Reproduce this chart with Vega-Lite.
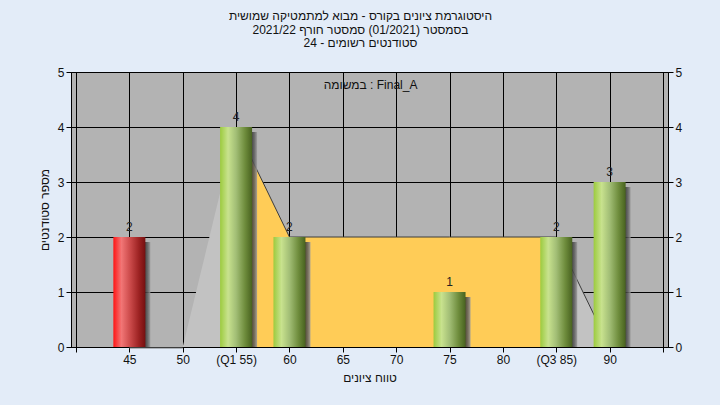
{
  "$schema": "https://vega.github.io/schema/vega-lite/v6.json",
  "width": 597,
  "height": 275,
  "autosize": {"type": "none"},
  "padding": {"left": 71, "top": 72, "right": 52, "bottom": 58},
  "background": "#E3ECF8",
  "title": {
    "text": ["היסטוגרמת ציונים בקורס - מבוא למתמטיקה שמושית", "בסמסטר  (01/2021)  סמסטר חורף 2021/22", "סטודנטים רשומים - 24"],
    "font": "Liberation Sans",
    "fontSize": 12,
    "fontWeight": "normal",
    "color": "#111111",
    "lineHeight": 13.5,
    "anchor": "middle",
    "offset": 16,
    "dx": -9
  },
  "config": {
    "view": {"fill": "#B3B3B3", "stroke": "#000000", "strokeWidth": 1},
    "axis": {
      "domainColor": "#000000",
      "tickColor": "#000000",
      "gridColor": "#000000",
      "gridOpacity": 1,
      "gridWidth": 1,
      "labelColor": "#111111",
      "labelFont": "Liberation Sans",
      "labelFontSize": 12,
      "titleFont": "Liberation Sans",
      "titleFontSize": 12,
      "titleFontWeight": "normal",
      "titleColor": "#111111",
      "tickSize": 5,
      "labelPadding": 2
    }
  },
  "datasets": {
    "hist": [
      {"grade": 45, "count": 2},
      {"grade": 55, "count": 4},
      {"grade": 60, "count": 2},
      {"grade": 75, "count": 1},
      {"grade": 85, "count": 2},
      {"grade": 90, "count": 3}
    ],
    "curve": [
      {"grade": 45, "value": 0},
      {"grade": 50, "value": 0},
      {"grade": 55, "value": 4},
      {"grade": 60, "value": 2},
      {"grade": 65, "value": 2},
      {"grade": 70, "value": 2},
      {"grade": 75, "value": 2},
      {"grade": 80, "value": 2},
      {"grade": 85, "value": 2},
      {"grade": 90, "value": 0}
    ],
    "legend": [{"label": "במשומה : Final_A"}]
  },
  "resolve": {"axis": {"y": "independent"}},
  "layer": [
    {
      "data": {"name": "curve"},
      "mark": {"type": "area", "fill": "#C2C2C2", "clip": true},
      "encoding": {
        "x": {
          "field": "grade", "type": "quantitative",
          "scale": {"domain": [40, 95], "nice": false, "zero": false},
          "axis": {
            "values": [40, 45, 50, 55, 60, 65, 70, 75, 80, 85, 90, 95],
            "grid": true,
            "title": "טווח ציונים",
            "titlePadding": 7,
            "labelExpr": "datum.value == 55 ? '(Q1 55)' : datum.value == 85 ? '(Q3 85)' : (datum.value == 40 || datum.value == 95) ? '' : datum.label"
          }
        },
        "y": {
          "field": "value", "type": "quantitative",
          "scale": {"domain": [0, 5], "nice": false},
          "axis": {
            "orient": "left",
            "values": [0, 1, 2, 3, 4, 5],
            "grid": true,
            "title": "מספר סטודנטים",
            "titlePadding": 6,
            "format": "d"
          }
        }
      }
    },
    {
      "data": {"name": "curve"},
      "transform": [{"filter": "datum.grade >= 55 && datum.grade <= 85"}],
      "mark": {"type": "area", "fill": "#FFCC57", "clip": true},
      "encoding": {
        "x": {"field": "grade", "type": "quantitative"},
        "y": {"field": "value", "type": "quantitative", "axis": null}
      }
    },
    {
      "data": {"name": "curve"},
      "transform": [{"filter": "datum.grade >= 55"}],
      "mark": {"type": "line", "stroke": "#3C3C3C", "strokeWidth": 1},
      "encoding": {
        "x": {"field": "grade", "type": "quantitative"},
        "y": {"field": "value", "type": "quantitative", "axis": null}
      }
    },
    {
      "data": {"name": "curve"},
      "transform": [{"filter": "datum.grade <= 50"}],
      "mark": {"type": "line", "stroke": "#7A7A7A", "strokeWidth": 1, "yOffset": 1, "clip": false},
      "encoding": {
        "x": {"field": "grade", "type": "quantitative"},
        "y": {"field": "value", "type": "quantitative", "axis": null}
      }
    },
    {
      "data": {"name": "hist"},
      "mark": {
        "type": "bar", "size": 32, "xOffset": 5, "yOffset": 5, "clip": true,
        "fill": {
          "gradient": "linear", "x1": 0, "y1": 0, "x2": 1, "y2": 0,
          "stops": [
            {"offset": 0, "color": "#383838"},
            {"offset": 0.84, "color": "#383838"},
            {"offset": 0.92, "color": "#606060"},
            {"offset": 1, "color": "#9A9A9A"}
          ]
        },
        "opacity": 0.85
      },
      "encoding": {
        "x": {"field": "grade", "type": "quantitative"},
        "y": {"field": "count", "type": "quantitative", "axis": null}
      }
    },
    {
      "data": {"name": "hist"},
      "transform": [{"filter": "datum.grade == 45"}],
      "mark": {
        "type": "bar", "size": 32,
        "fill": {
          "gradient": "linear", "x1": 0, "y1": 0, "x2": 1, "y2": 0,
          "stops": [
            {"offset": 0, "color": "#FF1414"},
            {"offset": 0.25, "color": "#F27676"},
            {"offset": 0.5, "color": "#CF4E4E"},
            {"offset": 0.8, "color": "#9C2222"},
            {"offset": 1, "color": "#741010"}
          ]
        }
      },
      "encoding": {
        "x": {"field": "grade", "type": "quantitative"},
        "y": {"field": "count", "type": "quantitative", "axis": null}
      }
    },
    {
      "data": {"name": "hist"},
      "transform": [{"filter": "datum.grade != 45"}],
      "mark": {
        "type": "bar", "size": 32,
        "fill": {
          "gradient": "linear", "x1": 0, "y1": 0, "x2": 1, "y2": 0,
          "stops": [
            {"offset": 0, "color": "#9CCB3E"},
            {"offset": 0.25, "color": "#C8E28E"},
            {"offset": 0.5, "color": "#A2BE76"},
            {"offset": 0.78, "color": "#6E8C3C"},
            {"offset": 1, "color": "#48621F"}
          ]
        }
      },
      "encoding": {
        "x": {"field": "grade", "type": "quantitative"},
        "y": {"field": "count", "type": "quantitative", "axis": null}
      }
    },
    {
      "data": {"name": "hist"},
      "mark": {"type": "text", "dy": -10, "font": "Liberation Sans", "fontSize": 12, "color": "#222222"},
      "encoding": {
        "x": {"field": "grade", "type": "quantitative"},
        "y": {
          "field": "count", "type": "quantitative",
          "axis": {"orient": "right", "values": [0, 1, 2, 3, 4, 5], "grid": false, "title": null, "format": "d"}
        },
        "text": {"field": "count", "type": "quantitative"}
      }
    },
    {
      "data": {"name": "legend"},
      "mark": {"type": "text", "font": "Liberation Sans", "fontSize": 12, "color": "#111111", "baseline": "middle"},
      "encoding": {
        "x": {"datum": 67.6, "type": "quantitative"},
        "y": {"datum": 4.76, "type": "quantitative", "axis": null},
        "text": {"field": "label", "type": "nominal"}
      }
    }
  ]
}
